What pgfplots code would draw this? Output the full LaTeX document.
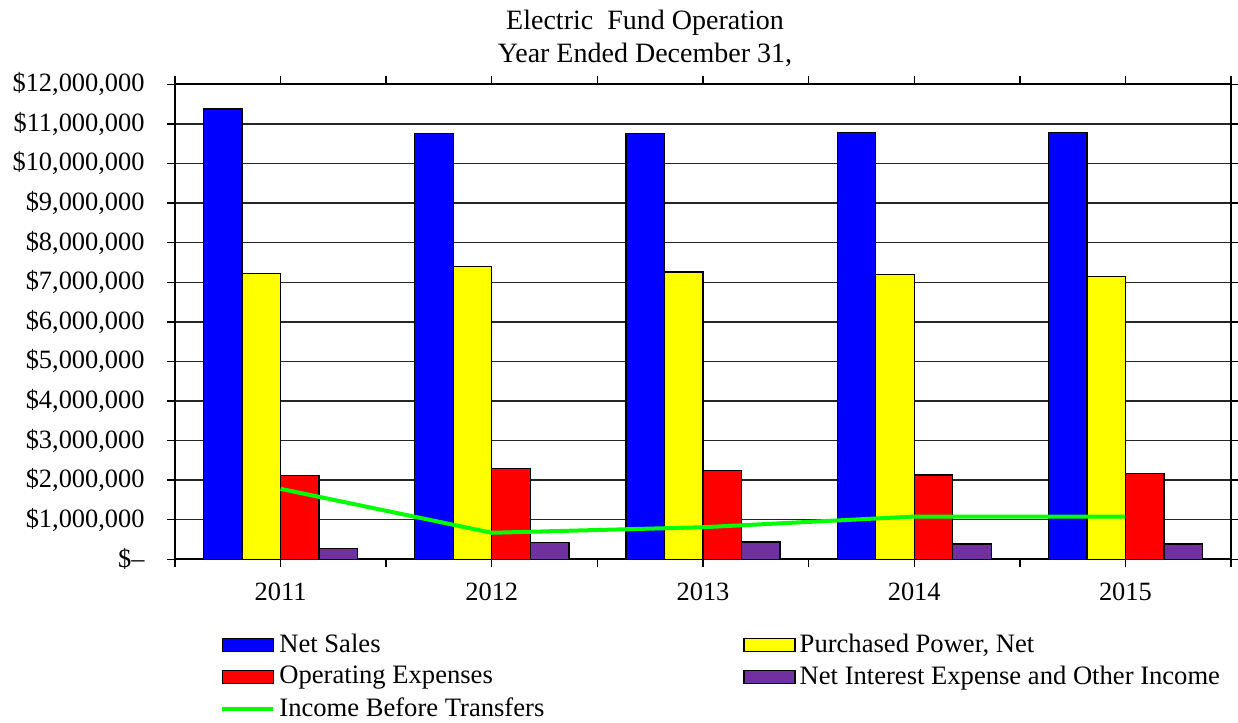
\documentclass[border=0pt]{standalone}
\usepackage{pgfplots}
\pgfplotsset{compat=1.18}
\usepackage{fontspec}
\setmainfont{Liberation Serif}
\definecolor{cblue}{RGB}{0,0,255}
\definecolor{cyellow}{RGB}{255,255,0}
\definecolor{cred}{RGB}{255,0,0}
\definecolor{cpurple}{RGB}{112,48,160}
\definecolor{cgreen}{RGB}{0,255,0}
\pgfplotsset{
  barleg/.style={legend image code/.code={\draw[##1,line width=0.7pt] (0pt,-3.25pt) rectangle (25.5pt,3.25pt);}},
  linleg/.style={legend image code/.code={\draw[##1] (0pt,0pt) -- (25.5pt,0pt);}},
}
\begin{document}
\fontsize{13.2pt}{15.8pt}\selectfont
\begin{tikzpicture}
\path[use as bounding box] (-87.5pt,-81.85pt) rectangle (531.5pt,279.65pt);
\begin{axis}[
  scale only axis,
  width=528pt, height=237.5pt,
  xmin=0, xmax=5, ymin=0, ymax=12000000,
  xtick={0.5,1.5,2.5,3.5,4.5},
  xticklabels={2011,2012,2013,2014,2015},
  minor xtick={0,1,2,3,4,5},
  ytick={0,1000000,2000000,3000000,4000000,5000000,6000000,7000000,8000000,9000000,10000000,11000000,12000000},
  yticklabels={\$--,{\$1,000,000},{\$2,000,000},{\$3,000,000},{\$4,000,000},{\$5,000,000},{\$6,000,000},{\$7,000,000},{\$8,000,000},{\$9,000,000},{\$10,000,000},{\$11,000,000},{\$12,000,000}},
  scaled y ticks=false,
  tick align=outside,
  major tick length=4pt, minor tick length=4pt,
  tick style={black, line width=0.7pt},
  ymajorgrids,
  major grid style={black!85, line width=0.7pt},
  axis line style={black, line width=1pt},
  yticklabel style={inner sep=0pt, xshift=-11pt},
  xticklabel style={yshift=-3pt},
  legend columns=2,
  legend cell align=left,
  legend style={at={(0,0)}, anchor=north west, xshift=22.5pt, yshift=-35pt,
    draw=none, fill=none, inner sep=0pt, row sep=0.8pt,
    font=\fontsize{13.3pt}{16pt}\selectfont,
    /tikz/column 2/.style={column sep=97.5pt},
    nodes={inner sep=2pt}},
]
\addplot[ybar, bar width=19.25pt, bar shift=-28.875pt, fill=cblue, draw=black, line width=0.7pt, barleg]
  coordinates {(0.5,11380000) (1.5,10750000) (2.5,10760000) (3.5,10780000) (4.5,10780000)};
\addplot[ybar, bar width=19.25pt, bar shift=-9.625pt, fill=cyellow, draw=black, line width=0.7pt, barleg]
  coordinates {(0.5,7220000) (1.5,7390000) (2.5,7260000) (3.5,7200000) (4.5,7150000)};
\addplot[ybar, bar width=19.25pt, bar shift=9.625pt, fill=cred, draw=black, line width=0.7pt, barleg]
  coordinates {(0.5,2120000) (1.5,2290000) (2.5,2250000) (3.5,2130000) (4.5,2170000)};
\addplot[ybar, bar width=19.25pt, bar shift=28.875pt, fill=cpurple, draw=black, line width=0.7pt, barleg]
  coordinates {(0.5,270000) (1.5,430000) (2.5,440000) (3.5,390000) (4.5,390000)};
\addplot[cgreen, line width=2pt, mark=none, linleg]
  coordinates {(0.5,1780000) (1.5,670000) (2.5,810000) (3.5,1080000) (4.5,1080000)};
\legend{Net Sales, {Purchased Power, Net}, Operating Expenses, Net Interest Expense and Other Income, Income Before Transfers}
\end{axis}
\node[anchor=base, inner sep=0pt, font=\fontsize{14pt}{17pt}\selectfont] at (235pt,265pt) {Electric\ \ Fund Operation};
\node[anchor=base, inner sep=0pt, font=\fontsize{14pt}{17pt}\selectfont] at (235pt,248.3pt) {Year\ Ended\ December\ 31,};
\end{tikzpicture}
\end{document}
